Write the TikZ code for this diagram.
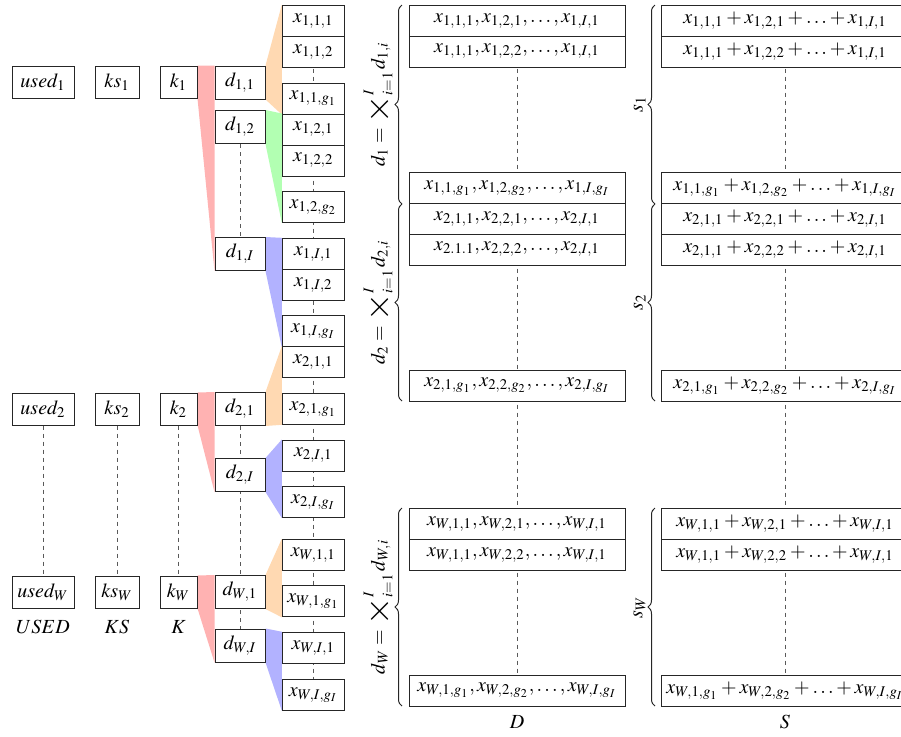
\documentclass[tikz,border=0pt]{standalone}
\usepackage{mathptmx}
\usepackage{graphicx}
\usetikzlibrary{decorations.pathreplacing,backgrounds}
\newcommand{\Btimes}{\mathop{\vcenter{\hbox{\scalebox{1.8}{$\times$}}}}\nolimits}
\tikzset{
  cell/.style={draw=black!85, fill=white, line width=0.5pt, inner sep=1pt, minimum height=15.5pt},
  ubox/.style={cell, minimum width=31pt, minimum height=16pt},
  ksbox/.style={cell, minimum width=22pt, minimum height=16pt},
  kbox/.style={cell, minimum width=18.5pt, minimum height=16pt},
  dbox/.style={cell, minimum width=25pt, minimum height=16.5pt},
  xbox/.style={cell, minimum width=31pt},
  Dbox/.style={cell, minimum width=108pt},
  Sbox/.style={cell, minimum width=124pt},
  dline/.style={draw=black!65, dash pattern=on 2pt off 2pt, line width=0.5pt},
  brc/.style={decorate, decoration={brace, amplitude=3.5pt}, draw=black!85, line width=0.5pt},
  vlab/.style={rotate=90, anchor=south, inner sep=1pt},
  fanred/.style={fill=red!30, draw=none},
  fanorange/.style={fill=orange!30, draw=none},
  fangreen/.style={fill=green!30, draw=none},
  fanblue/.style={fill=blue!30, draw=none},
}
\begin{document}
\begin{tikzpicture}[x=0.5pt, y=-0.5pt, font=\fontsize{10}{12}\selectfont]
\useasboundingbox (0,0) rectangle (901,736);
% left columns
\node[ubox] (used1) at (43,82) {$used_1$};
\node[ksbox] (ks1) at (117,82) {$ks_1$};
\node[kbox] (k1) at (178.5,82) {$k_1$};
\node[ubox] (used2) at (43,409) {$used_2$};
\node[ksbox] (ks2) at (117,409) {$ks_2$};
\node[kbox] (k2) at (178.5,409) {$k_2$};
\node[ubox] (usedW) at (43,592) {$used_W$};
\node[ksbox] (ksW) at (117,592) {$ks_W$};
\node[kbox] (kW) at (178.5,592) {$k_W$};
\node (lUSED) at (43,627) {$USED$};
\node (lKS) at (117,627) {$KS$};
\node (lK) at (178.5,627) {$K$};
% d column
\node[dbox] (d11) at (240,82.5) {$d_{1,1}$};
\node[dbox] (d12) at (240,127) {$d_{1,2}$};
\node[dbox] (d1I) at (240,254) {$d_{1,I}$};
\node[dbox] (d21) at (240,409) {$d_{2,1}$};
\node[dbox] (d2I) at (240,475) {$d_{2,I}$};
\node[dbox] (dW1) at (240,592) {$d_{W,1}$};
\node[dbox] (dWI) at (240,645.5) {$d_{W,I}$};
% x column
\node[xbox] (x111) at (313.3,20.7) {$x_{1,1,1}$};
\node[xbox] (x112) at (313.3,51.7) {$x_{1,1,2}$};
\node[xbox] (x11g) at (313.3,98.5) {$x_{1,1,g_1}$};
\node[xbox] (x121) at (313.3,129.5) {$x_{1,2,1}$};
\node[xbox] (x122) at (313.3,160.5) {$x_{1,2,2}$};
\node[xbox] (x12g) at (313.3,206.8) {$x_{1,2,g_2}$};
\node[xbox] (x1I1) at (313.3,253.8) {$x_{1,I,1}$};
\node[xbox] (x1I2) at (313.3,284.8) {$x_{1,I,2}$};
\node[xbox] (x1Ig) at (313.3,331.3) {$x_{1,I,g_I}$};
\node[xbox] (x211) at (313.3,362.2) {$x_{2,1,1}$};
\node[xbox] (x21g) at (313.3,408.8) {$x_{2,1,g_1}$};
\node[xbox] (x2I1) at (313.3,455.5) {$x_{2,I,1}$};
\node[xbox] (x2Ig) at (313.3,502) {$x_{2,I,g_I}$};
\node[xbox] (xW11) at (313.3,554.8) {$x_{W,1,1}$};
\node[xbox] (xW1g) at (313.3,601.3) {$x_{W,1,g_1}$};
\node[xbox] (xWI1) at (313.3,647.7) {$x_{W,I,1}$};
\node[xbox] (xWIg) at (313.3,694.7) {$x_{W,I,g_I}$};
% D column
\node[Dbox] (D1a) at (517,20.7) {$x_{1,1,1},x_{1,2,1},\ldots,x_{1,I,1}$};
\node[Dbox] (D1b) at (517,51.5) {$x_{1,1,1},x_{1,2,2},\ldots,x_{1,I,1}$};
\node[Dbox] (D1c) at (517,188) {$x_{1,1,g_1},x_{1,2,g_2},\ldots,x_{1,I,g_I}$};
\node[Dbox] (D2a) at (517,218.7) {$x_{2,1,1},x_{2,2,1},\ldots,x_{2,I,1}$};
\node[Dbox] (D2b) at (517,249.5) {$x_{2.1.1},x_{2,2,2},\ldots,x_{2,I,1}$};
\node[Dbox] (D2c) at (517,385.5) {$x_{2,1,g_1},x_{2,2,g_2},\ldots,x_{2,I,g_I}$};
\node[Dbox] (DWa) at (517,523.8) {$x_{W,1,1},x_{W,2,1},\ldots,x_{W,I,1}$};
\node[Dbox] (DWb) at (517,554.7) {$x_{W,1,1},x_{W,2,2},\ldots,x_{W,I,1}$};
\node[Dbox] (DWc) at (517,690.5) {$x_{W,1,g_1},x_{W,2,g_2},\ldots,x_{W,I,g_I}$};
% S column
\node[Sbox] (S1a) at (785,20.7) {$x_{1,1,1}+x_{1,2,1}+\ldots+x_{1,I,1}$};
\node[Sbox] (S1b) at (785,51.5) {$x_{1,1,1}+x_{1,2,2}+\ldots+x_{1,I,1}$};
\node[Sbox] (S1c) at (785,188) {$x_{1,1,g_1}+x_{1,2,g_2}+\ldots+x_{1,I,g_I}$};
\node[Sbox] (S2a) at (785,218.7) {$x_{2,1,1}+x_{2,2,1}+\ldots+x_{2,I,1}$};
\node[Sbox] (S2b) at (785,249.5) {$x_{2,1,1}+x_{2,2,2}+\ldots+x_{2,I,1}$};
\node[Sbox] (S2c) at (785,385.5) {$x_{2,1,g_1}+x_{2,2,g_2}+\ldots+x_{2,I,g_I}$};
\node[Sbox] (SWa) at (785,523.8) {$x_{W,1,1}+x_{W,2,1}+\ldots+x_{W,I,1}$};
\node[Sbox] (SWb) at (785,554.7) {$x_{W,1,1}+x_{W,2,2}+\ldots+x_{W,I,1}$};
\node[Sbox] (SWc) at (785,690.5) {$x_{W,1,g_1}+x_{W,2,g_2}+\ldots+x_{W,I,g_I}$};
% braces
\draw[brc] (402,204) -- (402,5);
\draw[brc] (402,401) -- (402,204);
\draw[brc] (402,706) -- (402,508);
\node[vlab] (ld1) at (395,104.5) {$d_1=\Btimes_{i=1}^{I} d_{1,i}$};
\node[vlab] (ld2) at (395,302.5) {$d_2=\Btimes_{i=1}^{I} d_{2,i}$};
\node[vlab] (ldW) at (395,607) {$d_W=\Btimes_{i=1}^{I} d_{W,i}$};
\draw[brc] (655,204) -- (655,5);
\draw[brc] (655,401) -- (655,204);
\draw[brc] (655,706) -- (655,508);
\node[vlab] (ls1) at (648,104.5) {$s_1$};
\node[vlab] (ls2) at (648,302.5) {$s_2$};
\node[vlab] (lsW) at (648,607) {$s_W$};
\node (lD) at (517,722) {$D$};
\node (lS) at (785,722) {$S$};
% background: fans and dashed lines
\begin{scope}[on background layer]
\draw[dline] (used2) -- (usedW);
\draw[dline] (ks2) -- (ksW);
\draw[dline] (k2) -- (kW);
\draw[dline] (d12) -- (d1I);
\draw[dline] (d21) -- (dWI);
\draw[dline] (x111) -- (xWIg);
\draw[dline] (D1a) -- (DWc);
\draw[dline] (S1a) -- (SWc);
\fill[fanred] (k1.north east) -- (d11.north west) -- (d1I.south west) -- (k1.south east) -- cycle;
\fill[fanred] (k2.north east) -- (d21.north west) -- (d2I.south west) -- (k2.south east) -- cycle;
\fill[fanred] (kW.north east) -- (dW1.north west) -- (dWI.south west) -- (kW.south east) -- cycle;
\fill[fanorange] (d11.north east) -- (x111.north west) -- (x11g.south west) -- (d11.south east) -- cycle;
\fill[fangreen] (d12.north east) -- (x121.north west) -- (x12g.south west) -- (d12.south east) -- cycle;
\fill[fanblue] (d1I.north east) -- (x1I1.north west) -- (x1Ig.south west) -- (d1I.south east) -- cycle;
\fill[fanorange] (d21.north east) -- (x211.north west) -- (x21g.south west) -- (d21.south east) -- cycle;
\fill[fanblue] (d2I.north east) -- (x2I1.north west) -- (x2Ig.south west) -- (d2I.south east) -- cycle;
\fill[fanorange] (dW1.north east) -- (xW11.north west) -- (xW1g.south west) -- (dW1.south east) -- cycle;
\fill[fanblue] (dWI.north east) -- (xWI1.north west) -- (xWIg.south west) -- (dWI.south east) -- cycle;
\end{scope}
\end{tikzpicture}
\end{document}
